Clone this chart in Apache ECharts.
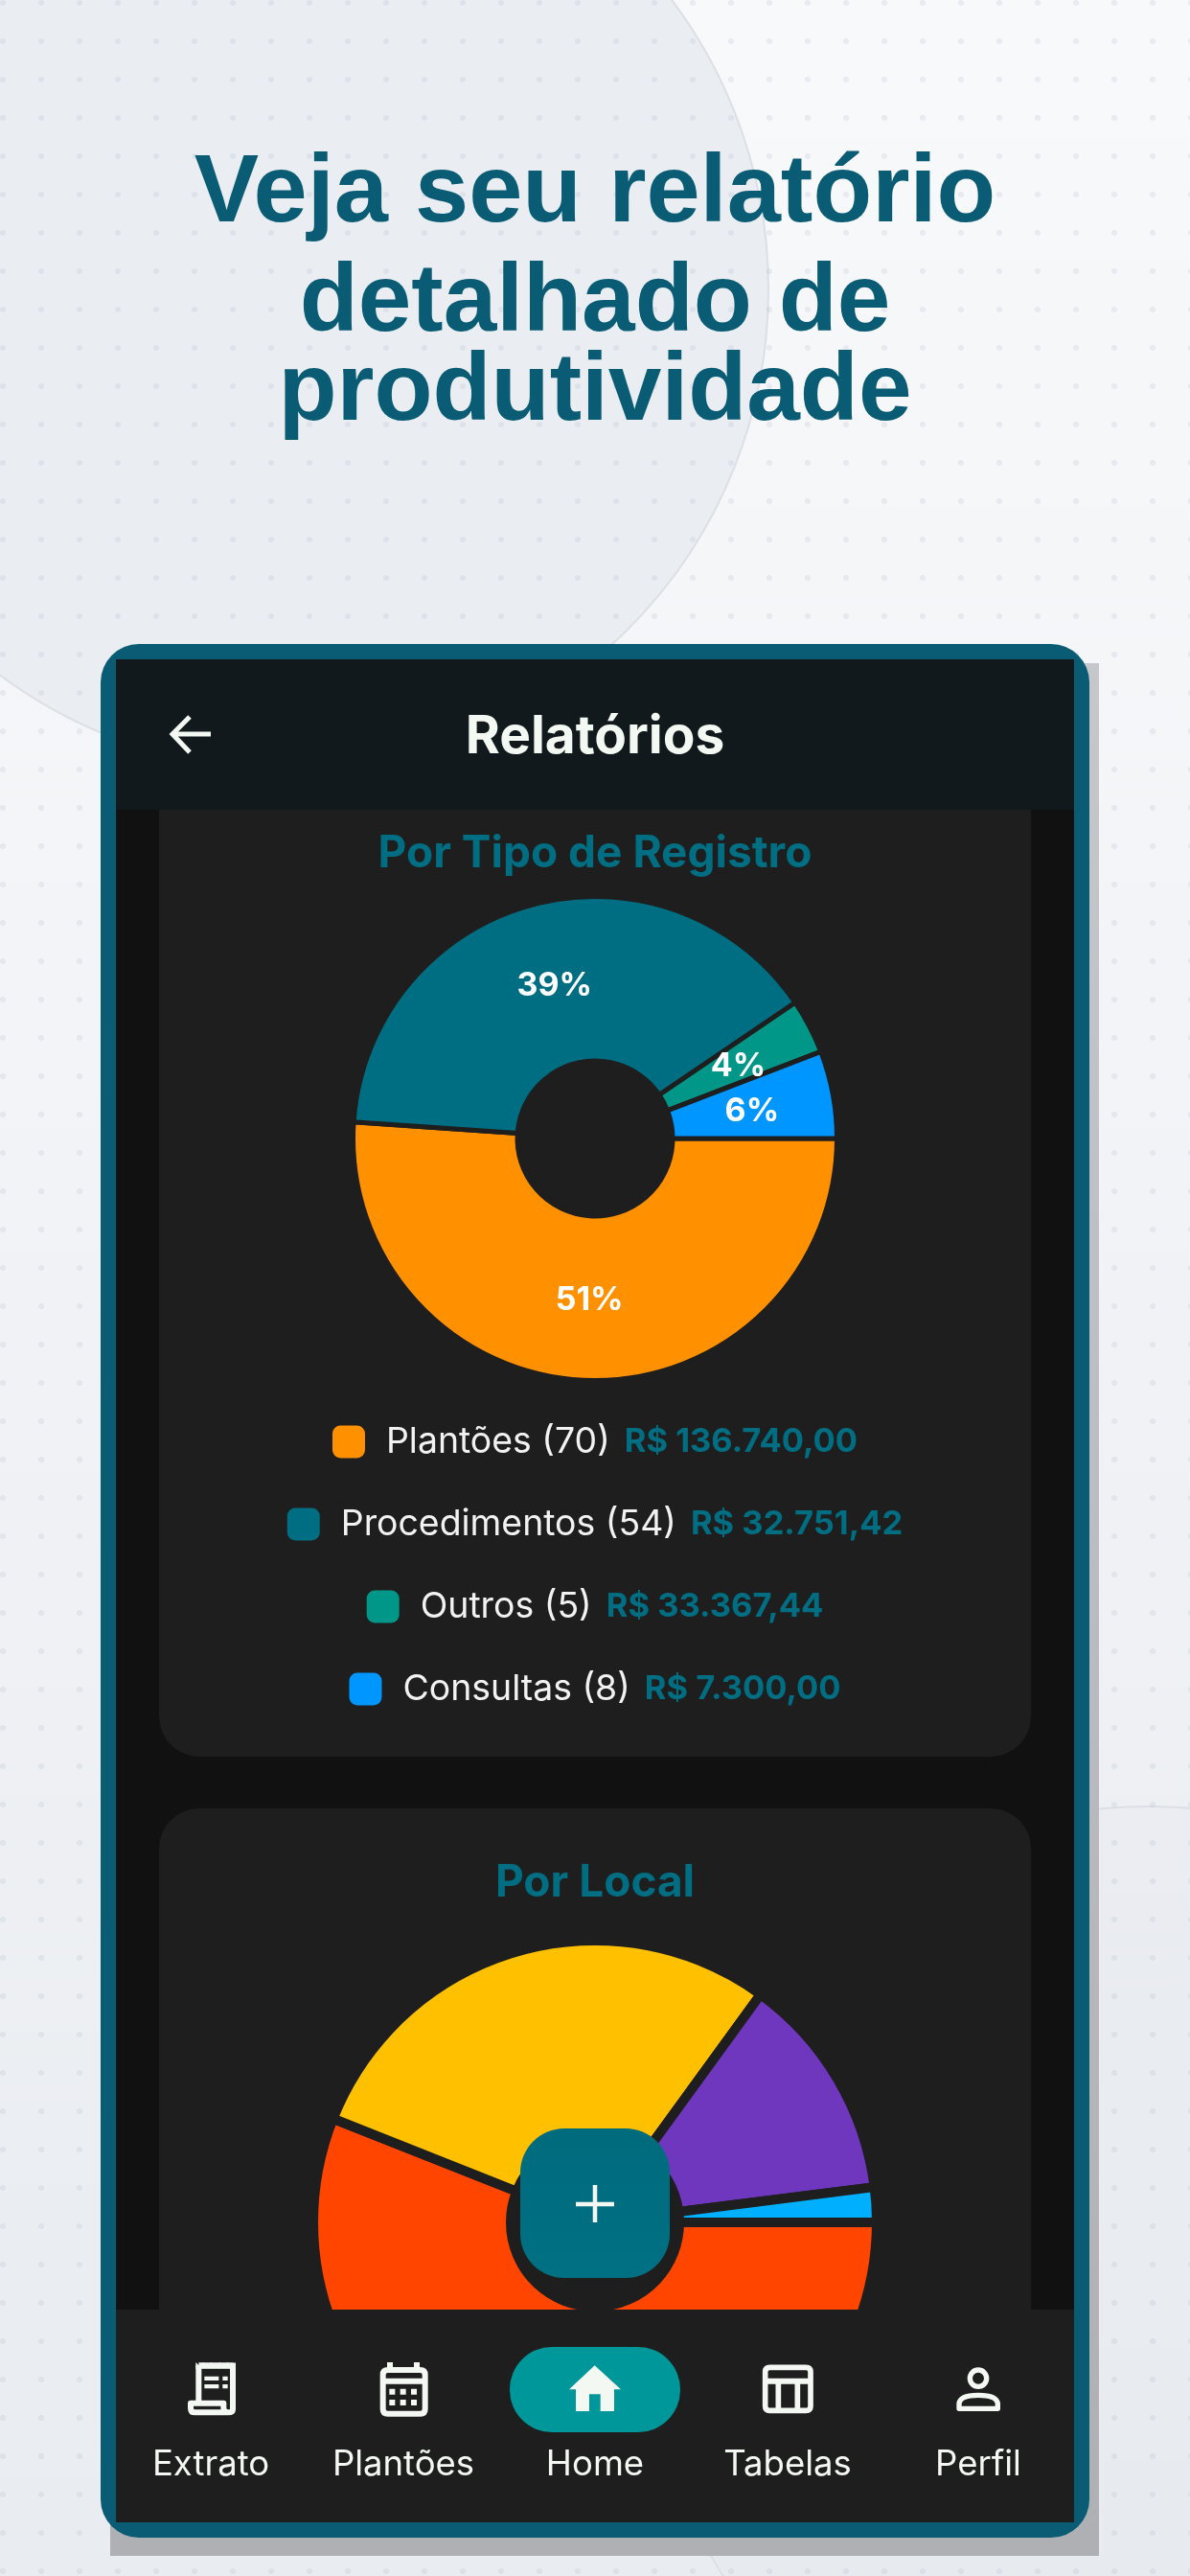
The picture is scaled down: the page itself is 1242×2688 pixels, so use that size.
<!DOCTYPE html>
<html lang="pt-BR">
<head>
<meta charset="utf-8">
<title>Relatórios</title>
<style>html,body{margin:0;padding:0;background:#f4f6f9}#c{width:1242px;height:2688px}</style>
<script src="https://cdn.jsdelivr.net/npm/echarts@6/dist/echarts.min.js"></script>
</head>
<body>
<div id="c"></div>
<script>
// ---- data ----
const tipoNames = ['Plantões', 'Procedimentos', 'Outros', 'Consultas'];
const tipoCounts = [70, 54, 5, 8];
const tipoAmounts = ['R$ 136.740,00', 'R$ 32.751,42', 'R$ 33.367,44', 'R$ 7.300,00'];
const tipoColors = ['#ff9100', '#006e82', '#009688', '#0096ff'];
const tipoLabelNudge = [[0, -1], [2, 5], [-1, 3], [-3, 3]];

const localNames = ['Local 1', 'Local 2', 'Local 3', 'Local 4'];
const localShares = [56, 29, 13, 2];
const localColors = ['#ff4500', '#ffc000', '#6f37bd', '#00b0ff'];

const headlineLines = ['Veja seu relatório', 'detalhado de', 'produtividade'];
const navLabels = ['Extrato', 'Plantões', 'Home', 'Tabelas', 'Perfil'];

// ---- styles ----
const INK = '#0a5c75', TEAL = '#006e82', CARD = '#1e1e1e', WHITE = '#f4f8f2';
const FONT = 'Inter, "Noto Sans", sans-serif';

// dotted wallpaper tile
const tile = document.createElement('canvas');
tile.width = tile.height = 40;
const tc = tile.getContext('2d');
tc.fillStyle = 'rgba(170,182,200,0.2)';
tc.beginPath(); tc.arc(3, 3, 3, 0, Math.PI * 2); tc.fill();

function rect(x, y, w, h, fill, z, r, extra) {
  return Object.assign({ type: 'rect', silent: true, z: z, shape: { x, y, width: w, height: h, r: r || 0 }, style: { fill } }, extra || {});
}
function circle(cx, cy, r, fill, stroke, z) {
  return { type: 'circle', silent: true, z, shape: { cx, cy, r }, style: { fill, stroke, lineWidth: 2 } };
}
let shapeCount = 0;
function pathEl(d, ox, oy, scale, z, style) {
  const name = 'uiPath' + (shapeCount++);
  echarts.graphic.registerShape(name, echarts.graphic.extendPath(d, {}));
  return { type: name, silent: true, z, x: ox, y: oy, scaleX: scale, scaleY: scale, style };
}
// icon path drawn in zoomed units, scaled to the page
function icon(d, ox, oy, z, lw, filled) {
  return pathEl(d, ox, oy, 1 / 3, z, filled ? { fill: WHITE, stroke: null } : { fill: 'none', stroke: WHITE, lineWidth: lw, lineJoin: 'round' });
}
function label(text, x, y, size, z) {
  return { type: 'text', silent: true, z, x, y,
    style: { text, fill: WHITE, font: '400 ' + size + 'px ' + FONT, textAlign: 'center', textVerticalAlign: 'middle' } };
}

const navX = [220, 421, 621, 822, 1021];
const NZ = 20;
const graphics = [
  rect(0, 0, 1242, 2688, { type: 'linear', x: 0, y: 0, x2: 0, y2: 1, colorStops: [{ offset: 0, color: '#f8f9fb' }, { offset: 1, color: '#e9ecf0' }] }, -30),
  circle(300, 302, 502, '#eaeef3', '#dcdfe3', -29),
  circle(1200, 2410, 525, 'rgba(228,232,238,0.35)', '#dcdfe4', -29),
  rect(0, 0, 1242, 2688, { type: 'pattern', image: tile, repeat: 'repeat' }, -28),
  // device shadow and frame
  rect(115, 692, 1032, 1975, { type: 'linear', x: 0, y: 0, x2: 0, y2: 1, colorStops: [{ offset: 0, color: '#c6c7ca' }, { offset: 1, color: '#aeb0b4' }] }, -26),
  rect(105, 672, 1032, 1976, INK, -25, 40),
  rect(121, 688, 1000, 1944, '#111111', -24),
  // cards
  rect(166, 800, 910, 1033, CARD, -23, 42),
  rect(166, 1887, 910, 700, CARD, -23, 42),
  // app bar
  rect(121, 688, 1000, 157, '#11191c', 15),
  pathEl('M220 766 H180 M198 748 L180 766 L198 785', 0, 0, 1, 16, { fill: 'none', stroke: WHITE, lineWidth: 5 }),
  { type: 'text', silent: true, z: 16, x: 621, y: 769, style: { text: 'Relatórios', fill: WHITE, font: '700 55px ' + FONT, textAlign: 'center', textVerticalAlign: 'middle' } },
  // bottom nav
  rect(121, 2410, 1000, 222, CARD, NZ),
  rect(532, 2449, 178, 89, '#00979b', NZ + 1, 44),
  // receipt
  icon('M112 85 H219 V222 Q219 232 205 232 H100 Q87 232 87 218 V203 H190 V218 Q190 232 205 232 M112 85 V203', 170, 2440, NZ + 1, 18),
  icon('M103 75 L115 87 L127 75 L140 87 L152 75 L165 87 L178 75 L190 87 L203 75 L215 87 L228 75 V95 H103 Z', 170, 2440, NZ + 1, 0, true),
  icon('M130 119 H175 V132 H130 Z M130 144 H175 V157 H130 Z M187 119 H203 V132 H187 Z M187 144 H203 V157 H187 Z', 170, 2440, NZ + 1, 0, true),
  // calendar
  icon('M704 99 H806 Q821 99 821 114 V221 Q821 236 806 236 H704 Q689 236 689 221 V114 Q689 99 704 99 Z M711 75 V97 M795 75 V97', 170, 2440, NZ + 1, 18),
  icon('M689 125 H821 V143 H689 Z M709 158 h18 v18 h-18 Z M743 158 h18 v18 h-18 Z M777 158 h18 v18 h-18 Z M709 192 h18 v18 h-18 Z M743 192 h18 v18 h-18 Z M777 192 h18 v18 h-18 Z', 170, 2440, NZ + 1, 0, true),
  // home
  icon('M122 85 L204 160 H183 V228 H140 V175 H105 V228 H63 V160 H42 Z', 580, 2440, NZ + 2, 0, true),
  // table
  icon('M670 91 H784 Q798 91 798 105 V212 Q798 226 784 226 H670 Q656 226 656 212 V105 Q656 91 670 91 Z M697 134 V226 M757 134 V226', 580, 2440, NZ + 1, 17),
  icon('M656 125 H798 V143 H656 Z', 580, 2440, NZ + 1, 0, true),
  // person
  icon('M1349 125 A26 26 0 1 1 1297 125 A26 26 0 1 1 1349 125 Z M1263 220 V205 Q1265 178 1323 178 Q1382 178 1384 205 V220 Z', 580, 2440, NZ + 1, 16),
  // add button
  rect(543, 2221, 156, 156, { type: 'linear', x: 0, y: 0, x2: 0, y2: 1, colorStops: [{ offset: 0, color: '#006b7d' }, { offset: 1, color: '#007083' }] }, 18, 46),
  pathEl('M621 2280 V2319 M601 2300 H641', 0, 0, 1, 19, { fill: 'none', stroke: WHITE, lineWidth: 4.5 })
].concat(navLabels.map((t, i) => label(t, navX[i], 2572, 36.5, NZ + 1)));

const headlineTops = [153, 267, 360];
const headlineSizes = [101, 100, 100];
const titles = headlineLines.map((text, i) => ({
  text, left: 'center', top: headlineTops[i], padding: 0, z: 6,
  textStyle: { fontFamily: '"Liberation Sans", Arial, sans-serif', fontWeight: 700, fontSize: headlineSizes[i], color: INK }
})).concat([
  { text: 'Por Tipo de Registro', left: 'center', top: 868, padding: 0, z: 6, textStyle: { fontFamily: FONT, fontWeight: 700, fontSize: 46, color: TEAL } },
  { text: 'Por Local', left: 'center', top: 1942, padding: 0, z: 6, textStyle: { fontFamily: FONT, fontWeight: 700, fontSize: 46, color: TEAL } }
]);

const legendTops = [1486, 1572, 1658, 1744];
const legends = tipoNames.map((name, i) => ({
  data: [name], left: 'center', top: legendTops[i], padding: 0,
  icon: 'roundRect', itemWidth: 34, itemHeight: 34, selectedMode: false, z: 6,
  itemStyle: { borderWidth: 0 },
  formatter: () => '{n|' + name + ' (' + tipoCounts[i] + ')}{v|' + tipoAmounts[i] + '}',
  textStyle: {
    rich: {
      n: { fontFamily: FONT, fontSize: 37.4, color: '#f2f2f2', padding: [0, 0, 0, 17], lineHeight: 34 },
      v: { fontFamily: FONT, fontSize: 34.5, fontWeight: 700, color: TEAL, padding: [0, 0, 0, 15], lineHeight: 34 }
    }
  }
}));

const chart = echarts.init(document.getElementById('c'), null, { renderer: 'canvas', width: 1242, height: 2688 });
chart.setOption({
  animation: false,
  backgroundColor: 'transparent',
  title: titles,
  legend: legends,
  graphic: { elements: graphics },
  series: [
    {
      type: 'pie', silent: true, center: [621, 1188], radius: [81, 252.5], startAngle: 0, clockwise: true,
      minShowLabelAngle: 0, avoidLabelOverlap: false,
      itemStyle: { borderColor: CARD, borderWidth: 5 },
      label: { position: 'inside', formatter: p => Math.round(p.percent) + '%', color: '#fff', fontFamily: FONT, fontWeight: 700, fontSize: 34 },
      labelLine: { show: false },
      data: tipoNames.map((name, i) => ({ name, value: tipoCounts[i], itemStyle: { color: tipoColors[i] }, label: { offset: tipoLabelNudge[i] } }))
    },
    {
      type: 'pie', silent: true, center: [621, 2319], radius: [88, 294], startAngle: 0, clockwise: true,
      itemStyle: { borderColor: CARD, borderWidth: 10 },
      label: { show: false }, labelLine: { show: false },
      data: localNames.map((name, i) => ({ name, value: localShares[i], itemStyle: { color: localColors[i] } }))
    }
  ]
});
</script>
</body>
</html>
